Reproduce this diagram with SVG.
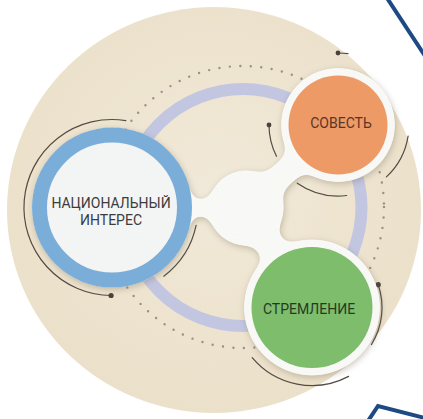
<svg xmlns="http://www.w3.org/2000/svg" width="423" height="419" viewBox="0 0 423 419">
<defs>
<radialGradient id="bg" cx="0.5" cy="0.45" r="0.55">
<stop offset="0" stop-color="#f1e9d9"/>
<stop offset="1" stop-color="#ebe0c9"/>
</radialGradient>
<filter id="goo" filterUnits="userSpaceOnUse" x="0" y="0" width="423" height="419" color-interpolation-filters="sRGB">
<feGaussianBlur in="SourceGraphic" stdDeviation="7" result="b"/>
<feColorMatrix in="b" type="matrix" values="1 0 0 0 0  0 1 0 0 0  0 0 1 0 0  0 0 0 20 -9.2" result="g"/>
<feGaussianBlur in="g" stdDeviation="3" result="s"/>
<feOffset in="s" dx="1" dy="2" result="so"/>
<feColorMatrix in="so" type="matrix" values="0 0 0 0 0.45  0 0 0 0 0.40  0 0 0 0 0.32  0 0 0 0.35 0" result="sc"/>
<feMerge><feMergeNode in="sc"/><feMergeNode in="g"/></feMerge>
</filter>
</defs>
<style>
.arc{fill:none;stroke:#554c44;stroke-width:1.2;stroke-linecap:round}
.dot{fill:#4a423c}
.lbl{font-family:Roboto,"Liberation Sans",sans-serif;font-size:14px;text-anchor:middle}
.corner{fill:none;stroke:#1d4a85;stroke-width:4}
</style>
<rect width="423" height="419" fill="#ffffff"/>
<g id="background">
<ellipse cx="214" cy="210" rx="207" ry="203" fill="url(#bg)"/>
</g>
<g id="decor">
<circle cx="243" cy="207.5" r="118.5" fill="none" stroke="#c3c6e1" stroke-width="12"/>
<circle cx="243" cy="207" r="141" fill="none" stroke="#9b9183" stroke-width="2.4" stroke-linecap="round" stroke-dasharray="0 10.5"/>
<path class="arc" d="M125.8,120.6 A88,88 0 1 0 111.1,295.5"/>
<circle class="dot" cx="111.1" cy="295.5" r="2.6"/>
<path class="arc" d="M196.1,225.4 A86,86 0 0 1 163.8,276.2"/>
<path class="arc" d="M269,125 A69,69 0 0 0 276.5,156.3"/>
<circle class="dot" cx="269" cy="125" r="2.4"/>
<path class="arc" d="M297.3,183.2 A71,71 0 0 0 346.7,195.5"/>
<path class="arc" d="M408.1,136.1 A71,71 0 0 1 386.4,176.9"/>
<path class="arc" d="M338,53 A72,72 0 0 1 348,53.7"/>
<circle class="dot" cx="338" cy="53" r="2.4"/>
<path class="arc" d="M378.2,284.7 A70,70 0 0 1 371.4,344.6"/>
<circle class="dot" cx="378.2" cy="284.7" r="2.6"/>
<path class="arc" d="M252.2,357.6 A78,78 0 0 0 348.6,376.4"/>
</g>
<g id="connectors" filter="url(#goo)" fill="#f8f8f6" stroke="#f8f8f6">
<circle cx="112" cy="207.5" r="80" stroke="none"/>
<circle cx="338" cy="125" r="57" stroke="none"/>
<circle cx="312" cy="307.5" r="68" stroke="none"/>
<circle cx="246" cy="208" r="38" stroke="none"/>
<line x1="150" y1="207.5" x2="245" y2="208" stroke-width="15"/>
<line x1="245" y1="208" x2="338" y2="125" stroke-width="24"/>
<line x1="245" y1="208" x2="312" y2="307.5" stroke-width="26"/>
</g>
<g id="node-national">
<circle cx="112" cy="207.5" r="72.5" fill="#f3f4f4" stroke="#7aaed9" stroke-width="15"/>
<text class="lbl" x="111" y="208" fill="#3c3c3c">НАЦИОНАЛЬНЫЙ</text>
<text class="lbl" x="111" y="225" fill="#3c3c3c">ИНТЕРЕС</text>
</g>
<g id="node-sovest">
<circle cx="338" cy="125" r="49.5" fill="#ed9a67"/>
<text class="lbl" x="341" y="128" fill="#5a3626">СОВЕСТЬ</text>
</g>
<g id="node-stremlenie">
<circle cx="312" cy="307.5" r="60.5" fill="#7dbd6b"/>
<text class="lbl" x="309" y="314" fill="#253a25">СТРЕМЛЕНИЕ</text>
</g>
<g id="frame">
<line class="corner" x1="387" y1="-2" x2="425" y2="56"/>
<polyline class="corner" points="368,421 378,406 425,418"/>
</g>
</svg>
